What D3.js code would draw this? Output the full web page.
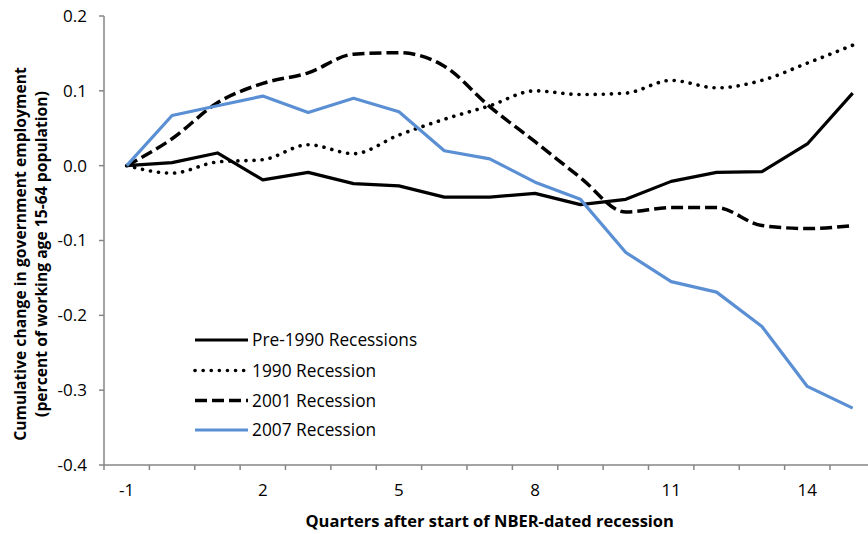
<!DOCTYPE html>
<html>
<head>
<meta charset="utf-8">
<script src="https://cdn.jsdelivr.net/npm/d3@7"></script>
<style>
  body { margin: 0; background: #fff; }
  svg { display: block; font-family: "Open Sans", sans-serif; }
</style>
</head>
<body>
<div id="chart"></div>
<script>
  // quarters after start of recession
  var quarters = [-1, 0, 1, 2, 3, 4, 5, 6, 7, 8, 9, 10, 11, 12, 13, 14, 15];
  var tickLabels = [-1, 2, 5, 8, 11, 14];
  var yTicks = [-0.4, -0.3, -0.2, -0.1, 0.0, 0.1, 0.2];

  var pre1990 = [0, 0.004, 0.017, -0.019, -0.009, -0.024, -0.027, -0.042, -0.042, -0.037, -0.052, -0.045, -0.021, -0.009, -0.008, 0.029, 0.097];
  var rec1990 = [0, -0.010, 0.005, 0.008, 0.028, 0.016, 0.041, 0.062, 0.080, 0.100, 0.095, 0.097, 0.114, 0.104, 0.114, 0.137, 0.161];
  var rec2001 = [0, 0.036, 0.084, 0.110, 0.124, 0.149, 0.151, 0.133, 0.079, 0.032, -0.016, -0.062, -0.056, -0.056, -0.080, -0.084, -0.080];
  var rec2007 = [0, 0.067, 0.080, 0.093, 0.071, 0.090, 0.072, 0.020, 0.009, -0.022, -0.045, -0.116, -0.155, -0.169, -0.215, -0.295, -0.324];

  var seriesNames = ["Pre-1990 Recessions", "1990 Recession", "2001 Recession", "2007 Recession"];

(function() {
  var width = 868, height = 534;
  var plotLeft = 104, plotTop = 16, plotBottom = 465, step = 45.375;
  var plotRight = plotLeft + step * quarters.length;

  var styles = [
    { color: "#000", dash: null, cap: "butt", w: 3.2, curve: d3.curveLinear },
    { color: "#000", dash: "0.1,8", cap: "round", w: 3.6, curve: d3.curveMonotoneX },
    { color: "#000", dash: "12,5", cap: "butt", w: 3.5, curve: d3.curveMonotoneX },
    { color: "#5a8fd4", dash: null, cap: "butt", w: 3.2, curve: d3.curveLinear }
  ];

  var series = [pre1990, rec1990, rec2001, rec2007].map(function(vals, i) {
    return { name: seriesNames[i], values: vals, style: styles[i] };
  });

  var svg = d3.select("#chart").append("svg")
    .attr("width", width).attr("height", height);

  var x = d3.scaleBand().domain(quarters).range([plotLeft, plotRight]);
  var y = d3.scaleLinear().domain([-0.4, 0.2]).range([plotBottom, plotTop]);

  var axisColor = "#868686";
  var fmt = function(d) { return d3.format(".1f")(d).replace("\u2212", "-"); };

  // y axis
  svg.append("line")
    .attr("x1", plotLeft).attr("x2", plotLeft).attr("y1", plotTop).attr("y2", plotBottom)
    .style("stroke", axisColor).style("stroke-width", 1.5);

  svg.selectAll(".ytick").data(yTicks).enter().append("line")
    .attr("x1", plotLeft - 5).attr("x2", plotLeft)
    .attr("y1", function(d) { return y(d); })
    .attr("y2", function(d) { return y(d); })
    .style("stroke", axisColor).style("stroke-width", 1.5);

  svg.selectAll(".ylab").data(yTicks).enter().append("text")
    .attr("x", plotLeft - 17)
    .attr("y", function(d) { return y(d); })
    .attr("dy", "0.35em")
    .attr("text-anchor", "end")
    .style("font-size", "17px")
    .style("fill", "#000")
    .text(fmt);

  // x axis
  svg.append("line")
    .attr("x1", plotLeft).attr("x2", plotRight).attr("y1", plotBottom).attr("y2", plotBottom)
    .style("stroke", axisColor).style("stroke-width", 1.5);

  var bounds = d3.range(quarters.length + 1);
  svg.selectAll(".xtick").data(bounds).enter().append("line")
    .attr("x1", function(d) { return plotLeft + d * x.step(); })
    .attr("x2", function(d) { return plotLeft + d * x.step(); })
    .attr("y1", plotBottom).attr("y2", plotBottom + 5)
    .style("stroke", axisColor).style("stroke-width", 1.5);

  svg.selectAll(".xlab").data(tickLabels).enter().append("text")
    .attr("x", function(d) { return x(d) + x.bandwidth() / 2; })
    .attr("y", 496)
    .attr("text-anchor", "middle")
    .style("font-size", "17px")
    .text(function(d) { return d; });

  // lines
  series.forEach(function(s) {
    var line = d3.line()
      .x(function(d, i) { return x(quarters[i]) + x.bandwidth() / 2; })
      .y(function(d) { return y(d); })
      .curve(s.style.curve);
    svg.append("path")
      .datum(s.values)
      .attr("d", line)
      .style("fill", "none")
      .style("stroke", s.style.color)
      .style("stroke-width", s.style.w)
      .style("stroke-linecap", s.style.cap)
      .style("stroke-linejoin", "round")
      .style("stroke-dasharray", s.style.dash);
  });

  // legend
  var legY = [340, 370.5, 400.5, 430];
  var leg = svg.selectAll(".leg").data(series).enter().append("g")
    .attr("transform", function(d, i) { return "translate(195," + legY[i] + ")"; });
  leg.append("line")
    .attr("x1", 0).attr("x2", 53).attr("y1", 0).attr("y2", 0)
    .style("stroke", function(d) { return d.style.color; })
    .style("stroke-width", function(d) { return d.style.w; })
    .style("stroke-linecap", function(d) { return d.style.cap; })
    .style("stroke-dasharray", function(d) { return d.style.dash; });
  leg.append("text")
    .attr("x", 57).attr("y", 0).attr("dy", "0.35em")
    .style("font-size", "17.3px")
    .text(function(d) { return d.name; });

  // axis titles
  svg.append("text")
    .attr("x", (plotLeft + plotRight) / 2).attr("y", 527)
    .attr("text-anchor", "middle")
    .style("font-size", "16.5px").style("font-weight", "bold")
    .text("Quarters after start of NBER-dated recession");

  var yt = svg.append("text")
    .attr("transform", "translate(0,254) rotate(-90)")
    .attr("text-anchor", "middle")
    .style("font-size", "15.7px").style("font-weight", "bold");
  yt.append("tspan").attr("x", 0).attr("y", 26).text("Cumulative change in government employment");
  yt.append("tspan").attr("x", 0).attr("y", 47).text("(percent  of working age 15-64 population)");
}).call(this);
</script>
</body>
</html>
